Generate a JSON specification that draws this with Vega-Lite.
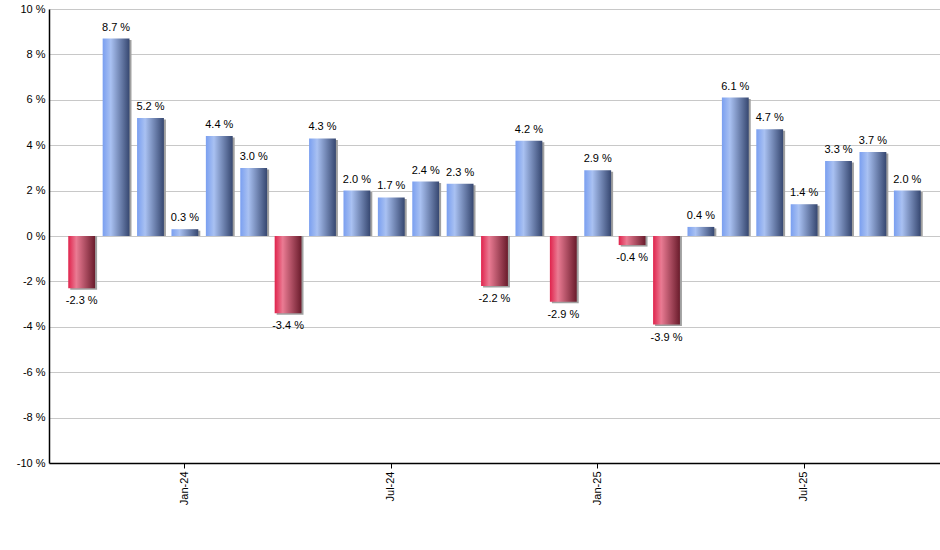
{
  "$schema": "https://vega.github.io/schema/vega-lite/v6.json",
  "width": 891,
  "height": 454,
  "autosize": {"type": "none"},
  "padding": {"left": 49, "top": 9, "right": 0, "bottom": 87},
  "background": "white",
  "config": {
    "view": {"stroke": null},
    "font": "Liberation Sans",
    "axis": {"labelFont": "Liberation Sans", "labelFontSize": 11, "labelColor": "#000000"}
  },
  "data": {
    "values": [
      {"month": "Oct-23", "v": -2.3},
      {"month": "Nov-23", "v": 8.7},
      {"month": "Dec-23", "v": 5.2},
      {"month": "Jan-24", "v": 0.3},
      {"month": "Feb-24", "v": 4.4},
      {"month": "Mar-24", "v": 3.0},
      {"month": "Apr-24", "v": -3.4},
      {"month": "May-24", "v": 4.3},
      {"month": "Jun-24", "v": 2.0},
      {"month": "Jul-24", "v": 1.7},
      {"month": "Aug-24", "v": 2.4},
      {"month": "Sep-24", "v": 2.3},
      {"month": "Oct-24", "v": -2.2},
      {"month": "Nov-24", "v": 4.2},
      {"month": "Dec-24", "v": -2.9},
      {"month": "Jan-25", "v": 2.9},
      {"month": "Feb-25", "v": -0.4},
      {"month": "Mar-25", "v": -3.9},
      {"month": "Apr-25", "v": 0.4},
      {"month": "May-25", "v": 6.1},
      {"month": "Jun-25", "v": 4.7},
      {"month": "Jul-25", "v": 1.4},
      {"month": "Aug-25", "v": 3.3},
      {"month": "Sep-25", "v": 3.7},
      {"month": "Oct-25", "v": 2.0}
    ]
  },
  "transform": [
    {"calculate": "replace(format(datum.v, '.1f'), '\u2212', '-') + ' %'", "as": "label"}
  ],
  "encoding": {
    "x": {
      "field": "month",
      "type": "nominal",
      "sort": null,
      "scale": {"paddingInner": 0.22, "paddingOuter": 0.56},
      "axis": {
        "title": null,
        "values": ["Jan-24", "Jul-24", "Jan-25", "Jul-25"],
        "labelAngle": -90,
        "labelAlign": "right",
        "labelBaseline": "middle",
        "domainColor": "#000000",
        "domainWidth": 1.5,
        "tickColor": "#000000",
        "tickSize": 5,
        "labelPadding": 3,
        "grid": false
      }
    },
    "y": {
      "field": "v",
      "type": "quantitative",
      "scale": {"domain": [-10, 10], "nice": false},
      "axis": {
        "title": null,
        "values": [-10, -8, -6, -4, -2, 0, 2, 4, 6, 8, 10],
        "labelExpr": "datum.value + ' %'",
        "grid": true,
        "gridColor": "#c8c8c8",
        "gridWidth": 1,
        "domainColor": "#000000",
        "domainWidth": 1.5,
        "ticks": false,
        "labelPadding": 4
      }
    }
  },
  "layer": [
    {
      "mark": {"type": "bar", "color": "#a0a0a0", "xOffset": 2, "yOffset": 1.5},
      "encoding": {"y2": {"datum": 0}}
    },
    {
      "transform": [{"filter": "datum.v >= 0"}],
      "mark": {
        "type": "bar",
        "color": {
          "gradient": "linear", "x1": 0, "x2": 1, "y1": 0, "y2": 0,
          "stops": [
            {"offset": 0, "color": "#7a9ff0"},
            {"offset": 0.3, "color": "#a9c1f2"},
            {"offset": 1, "color": "#364770"}
          ]
        }
      },
      "encoding": {"y2": {"datum": 0}}
    },
    {
      "transform": [{"filter": "datum.v < 0"}],
      "mark": {
        "type": "bar",
        "color": {
          "gradient": "linear", "x1": 0, "x2": 1, "y1": 0, "y2": 0,
          "stops": [
            {"offset": 0, "color": "#e0234c"},
            {"offset": 0.3, "color": "#ea7b93"},
            {"offset": 1, "color": "#6a1c2c"}
          ]
        }
      },
      "encoding": {"y2": {"datum": 0}}
    },
    {
      "transform": [{"filter": "datum.v >= 0"}],
      "mark": {"type": "text", "baseline": "bottom", "dy": -6, "fontSize": 11, "color": "#000000"},
      "encoding": {"text": {"field": "label"}}
    },
    {
      "transform": [{"filter": "datum.v < 0"}],
      "mark": {"type": "text", "baseline": "top", "dy": 7, "fontSize": 11, "color": "#000000"},
      "encoding": {"text": {"field": "label"}}
    }
  ]
}
